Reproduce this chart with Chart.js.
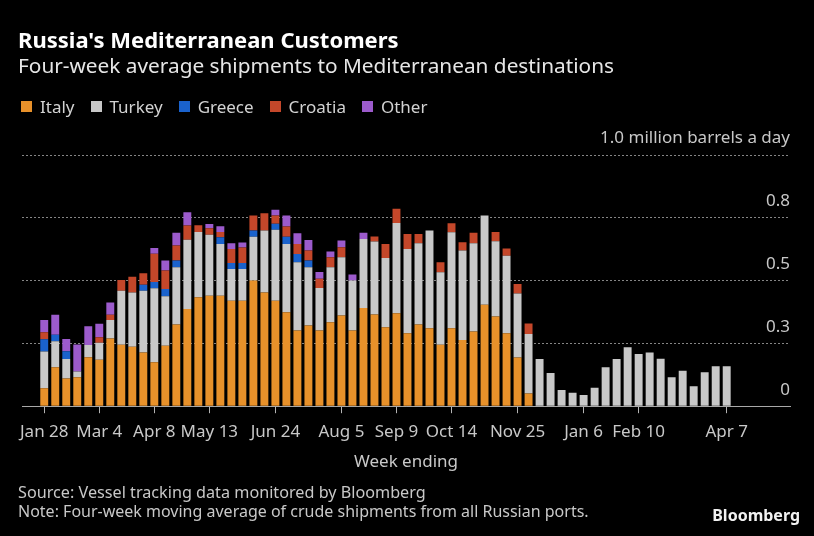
<!DOCTYPE html>
<html>
<head>
<meta charset="utf-8">
<title>Russia's Mediterranean Customers</title>
<script src="https://cdn.jsdelivr.net/npm/chart.js@4.4.0/dist/chart.umd.min.js"></script>
<style>
  html, body { margin: 0; padding: 0; background: #000; }
  body { width: 814px; height: 536px; position: relative; overflow: hidden; font-family: 'Noto Sans', sans-serif; }
  #chart { position: absolute; left: 0; top: 0; }
  .txt { position: absolute; line-height: 1; white-space: nowrap; }
  #title { left: 18px; top: 28px; font-size: 22px; font-weight: 700; color: #fff; }
  #subtitle { left: 18px; top: 55px; font-size: 20.8px; color: #e6e6e6; }
  #legend { left: 21px; top: 98px; font-size: 17px; color: #d2d2d2; display: flex; gap: 16px; }
  #legend span.item { display: flex; align-items: center; }
  #legend i { display: inline-block; width: 11px; height: 11px; margin-right: 8px; }
  #source { left: 18px; top: 484px; font-size: 16.2px; color: #c8c8c8; }
  #note { left: 18px; top: 503px; font-size: 16px; color: #c8c8c8; }
  #logo { right: 14px; top: 507px; font-size: 16px; font-weight: 700; color: #f2f2f2; }
</style>
</head>
<body>
<canvas id="chart" width="814" height="536"></canvas>
<div class="txt" id="title">Russia's Mediterranean Customers</div>
<div class="txt" id="subtitle">Four-week average shipments to Mediterranean destinations</div>
<div class="txt" id="legend"></div>
<div class="txt" id="source">Source: Vessel tracking data monitored by Bloomberg</div>
<div class="txt" id="note">Note: Four-week moving average of crude shipments from all Russian ports.</div>
<div class="txt" id="logo">Bloomberg</div>
<script>
// weekly bars, week ending Jan 28 2022 .. Apr 7 2023 (63 weeks), million barrels a day
const xTickIdx = [0, 5, 10, 15, 21, 27, 32, 37, 43, 49, 54, 62];
const xTickLabels = ['Jan 28', 'Mar 4', 'Apr 8', 'May 13', 'Jun 24', 'Aug 5', 'Sep 9', 'Oct 14', 'Nov 25', 'Jan 6', 'Feb 10', 'Apr 7'];
const yTickLabels = ['0', '0.3', '0.5', '0.8', '1.0 million barrels a day'];

const italy = [0.071, 0.155, 0.110, 0.115, 0.195, 0.185, 0.270, 0.245, 0.237, 0.214,
  0.175, 0.241, 0.325, 0.387, 0.434, 0.440, 0.440, 0.420, 0.420, 0.500,
  0.453, 0.420, 0.374, 0.301, 0.321, 0.301, 0.334, 0.361, 0.301, 0.391,
  0.365, 0.314, 0.370, 0.290, 0.325, 0.310, 0.245, 0.310, 0.264, 0.297,
  0.404, 0.357, 0.290, 0.194, 0.051, 0, 0, 0, 0, 0,
  0, 0, 0, 0, 0, 0, 0, 0, 0, 0,
  0, 0, 0];
const turkey = [0.147, 0.104, 0.078, 0.023, 0.049, 0.068, 0.073, 0.215, 0.216, 0.246,
  0.295, 0.197, 0.228, 0.276, 0.259, 0.243, 0.206, 0.126, 0.126, 0.175,
  0.246, 0.282, 0.272, 0.272, 0.232, 0.170, 0.219, 0.232, 0.199, 0.275,
  0.291, 0.276, 0.359, 0.336, 0.324, 0.389, 0.288, 0.382, 0.356, 0.352,
  0.355, 0.300, 0.309, 0.255, 0.236, 0.188, 0.132, 0.064, 0.054, 0.045,
  0.073, 0.155, 0.188, 0.235, 0.208, 0.214, 0.189, 0.115, 0.141, 0.079,
  0.135, 0.159, 0.159];
const greece = [0.049, 0.025, 0.031, 0, 0, 0, 0, 0, 0, 0.023,
  0.024, 0.029, 0.027, 0, 0, 0, 0.027, 0.024, 0.024, 0.024,
  0, 0.024, 0.029, 0.033, 0.027, 0, 0, 0, 0, 0,
  0, 0, 0, 0, 0, 0, 0, 0, 0, 0,
  0, 0, 0, 0, 0, 0, 0, 0, 0, 0,
  0, 0, 0, 0, 0, 0, 0, 0, 0, 0,
  0, 0, 0];
const croatia = [0.027, 0, 0, 0, 0, 0.021, 0.021, 0.042, 0.062, 0.046,
  0.113, 0.073, 0.060, 0.056, 0.027, 0.025, 0.020, 0.056, 0.062, 0.060,
  0.069, 0.033, 0.040, 0.040, 0.040, 0.036, 0.040, 0.040, 0, 0,
  0.020, 0.056, 0.057, 0.060, 0.037, 0, 0.040, 0.036, 0.033, 0.041,
  0, 0.036, 0.029, 0.037, 0.042, 0, 0, 0, 0, 0,
  0, 0, 0, 0, 0, 0, 0, 0, 0, 0,
  0, 0, 0];
const other = [0.049, 0.080, 0.049, 0.108, 0.074, 0.054, 0.049, 0, 0, 0,
  0.023, 0.040, 0.050, 0.053, 0, 0.017, 0.023, 0.023, 0.020, 0,
  0, 0.023, 0.044, 0.042, 0.042, 0.027, 0.023, 0.027, 0.024, 0.024,
  0, 0, 0, 0, 0, 0, 0, 0, 0, 0,
  0, 0, 0, 0, 0, 0, 0, 0, 0, 0,
  0, 0, 0, 0, 0, 0, 0, 0, 0, 0,
  0, 0, 0];

const colors = {
  Italy: '#e8912a',
  Turkey: '#c8c8c8',
  Greece: '#1a62cc',
  Croatia: '#c4472a',
  Other: '#9c5bcc'
};

Chart.defaults.font.family = "'Noto Sans', sans-serif";
Chart.defaults.color = '#c8c8c8';

function makeSet(label, values) {
  return {
    label: label,
    data: values.map((v, i) => ({ x: i, y: v })),
    backgroundColor: colors[label],
    borderWidth: 0,
    categoryPercentage: 0.8,
    barPercentage: 0.9
  };
}

const chart = new Chart(document.getElementById('chart'), {
  type: 'bar',
  data: {
    datasets: [
      makeSet('Italy', italy),
      makeSet('Turkey', turkey),
      makeSet('Greece', greece),
      makeSet('Croatia', croatia),
      makeSet('Other', other)
    ]
  },
  options: {
    responsive: false,
    animation: false,
    layout: { padding: { left: 22, right: 24, top: 155, bottom: 59 } },
    plugins: { legend: { display: false }, tooltip: { enabled: false } },
    scales: {
      x: {
        type: 'linear',
        stacked: true,
        offset: false,
        min: -2.02,
        max: 67.75,
        afterBuildTicks: (scale) => { scale.ticks = xTickIdx.map(v => ({ value: v })); },
        ticks: {
          autoSkip: false,
          maxRotation: 0,
          padding: 9,
          font: { size: 17 },
          color: '#c8c8c8',
          callback: (value, index) => xTickLabels[index]
        },
        grid: { offset: false, drawOnChartArea: false, drawTicks: true, tickLength: 7, tickColor: '#b4b4b4', tickWidth: 1 },
        border: { display: true, color: '#a8a8a8', width: 1 },
        title: { display: true, text: 'Week ending', color: '#c8c8c8', font: { size: 17 }, padding: { top: 0, bottom: 5 } }
      },
      y: {
        position: 'right',
        stacked: true,
        min: 0,
        max: 1,
        afterBuildTicks: (scale) => { scale.ticks = [0, 0.25, 0.5, 0.75, 1].map(v => ({ value: v })); },
        ticks: {
          mirror: true,
          padding: 0,
          labelOffset: -16.5,
          font: { size: 17 },
          color: '#c8c8c8',
          callback: (value, index) => yTickLabels[index]
        },
        grid: { color: 'rgba(140,140,140,0.95)', lineWidth: 1, drawTicks: false },
        border: { display: false, dash: [2, 2] }
      }
    }
  }
});

// html legend from the chart's datasets
const legend = document.getElementById('legend');
chart.data.datasets.forEach(ds => {
  const item = document.createElement('span');
  item.className = 'item';
  item.innerHTML = '<i style="background:' + ds.backgroundColor + '"></i>' + ds.label;
  legend.appendChild(item);
});
</script>
</body>
</html>
